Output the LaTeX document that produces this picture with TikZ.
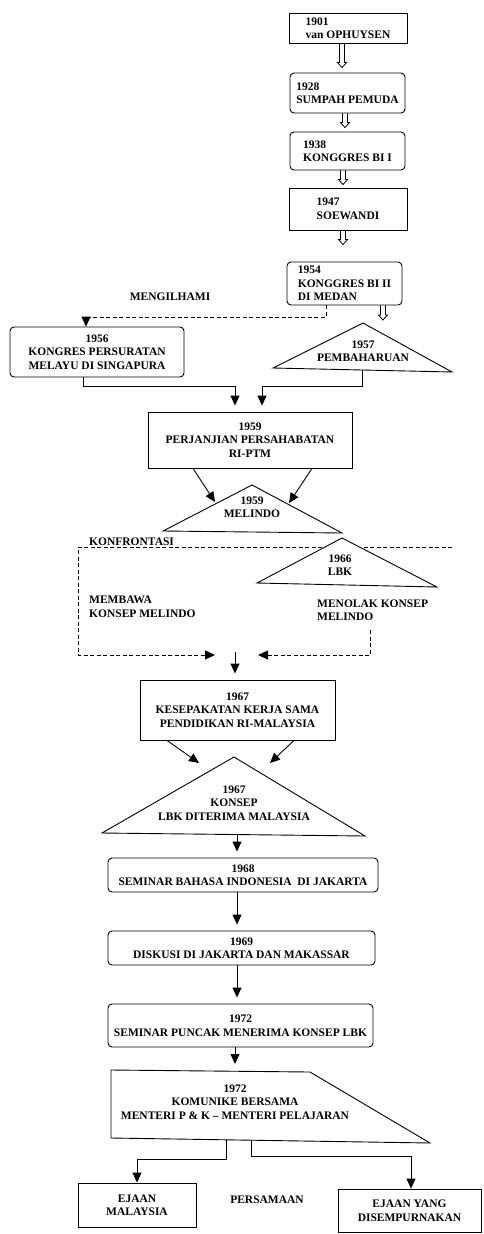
\documentclass[tikz,border=0pt]{standalone}
\usepackage{fontspec}
\setmainfont{Liberation Serif}
\usetikzlibrary{arrows.meta}
\usetikzlibrary{calc}

\begin{document}
\begin{tikzpicture}[x=1pt,y=-1pt,
    font=\fontsize{11.5}{13.5}\selectfont\bfseries,
    box/.style={draw,line width=0.9pt,inner sep=2pt,align=center},
    rbox/.style={box,rounded corners=4pt},
    lbl/.style={inner sep=1pt,align=center},
    tri/.style={draw,line width=0.9pt,fill=white,line join=miter},
    arr/.style={line width=0.9pt,-{Triangle[length=10pt,width=9pt]}},
    dasharr/.style={arr,dash pattern=on 4pt off 2.5pt},
    gap/.style={shorten >=6pt},
    hollow/.style={line width=0.8pt,to path={let \p1=(\tikztostart), \p2=(\tikztotarget) in
      (\x1-2.5pt,\y1) -- (\x1-2.5pt,\y2+5pt) -- (\x1-4.5pt,\y2+5pt) -- (\x1,\y2)
      -- (\x1+4.5pt,\y2+5pt) -- (\x1+2.5pt,\y2+5pt) -- (\x1+2.5pt,\y1)}}]
  \useasboundingbox (0,0) rectangle (484,1234);

  % boxes
  \node[box,align=left,minimum width=118pt,minimum height=30pt] (y1901) at (348,28) {1901\\van OPHUYSEN};
  \node[rbox,align=left,minimum width=115pt,minimum height=40pt] (y1928) at (347.5,93) {1928\\SUMPAH PEMUDA};
  \node[rbox,align=left,minimum width=115pt,minimum height=38pt] (y1938) at (347.5,151) {1938\\KONGGRES BI I};
  \node[box,align=left,minimum width=118pt,minimum height=42pt] (y1947) at (348,209) {1947\\SOEWANDI};
  \node[rbox,align=left,minimum width=115pt,minimum height=43pt] (y1954) at (344.5,283.5) {1954\\KONGGRES BI II\\DI MEDAN};
  \node[rbox,minimum width=174pt,minimum height=50pt] (y1956) at (97,352) {1956\\KONGRES PERSURATAN\\MELAYU DI SINGAPURA};
  \node[box,minimum width=204pt,minimum height=56pt] (y1959) at (250,440) {1959\\PERJANJIAN PERSAHABATAN\\RI-PTM};
  \node[box,minimum width=195pt,minimum height=60pt] (y1967) at (237.5,710) {1967\\KESEPAKATAN KERJA SAMA\\PENDIDIKAN RI-MALAYSIA};
  \node[rbox,minimum width=270pt,minimum height=34pt] (y1968) at (243,875) {1968\\SEMINAR BAHASA INDONESIA\ \ DI JAKARTA};
  \node[rbox,minimum width=267pt,minimum height=34pt] (y1969) at (241.5,948) {1969\\DISKUSI DI JAKARTA DAN MAKASSAR};
  \node[rbox,minimum width=265pt,minimum height=43pt] (y1972) at (240.5,1025.5) {1972\\SEMINAR PUNCAK MENERIMA KONSEP LBK};
  \node[box,minimum width=118pt,minimum height=44pt] (ejmal) at (137,1205) {EJAAN\\MALAYSIA};
  \node[box,minimum width=143pt,minimum height=43pt] (ejyang) at (409.5,1210.5) {EJAAN YANG\\DISEMPURNAKAN};

  % hollow arrows
  \draw[hollow] ([xshift=-6pt]y1901.south) to ([yshift=5pt]y1928.north);
  \draw[hollow] ([xshift=-2.5pt]y1928.south) to ([yshift=4pt]y1938.north);
  \draw[hollow] ([xshift=-4.5pt]y1938.south) to ([yshift=3pt]y1947.north);
  \draw[hollow] ([xshift=-5pt]y1947.south) to ([yshift=17pt]y1954.north);
  \coordinate (h57) at (383,320);
  \draw[hollow] (y1954.south -| h57) to (h57);

  % dashed lines
  \coordinate (m1) at (326,317);
  \draw[dasharr] (y1954.south -| m1) -- (m1) -| ([xshift=-11pt]y1956.north);
  \node[lbl] (mengil) at (170,297) {MENGILHAMI};

  \coordinate (k1) at (78,547);
  \coordinate (k2) at (452,547);
  \coordinate (k3) at (215,655);
  \draw[dasharr] (k2) -- (k1) |- (k3);
  \coordinate (r1) at (370,630);
  \coordinate (r2) at (258,655);
  \draw[dasharr] (r1) |- (r2);

  % triangles
  \coordinate (p57a) at (363,323);
  \coordinate (p57l) at (273,368);
  \coordinate (p57r) at (452,372);
  \draw[tri] (p57a) -- (p57l) -- (p57r) -- cycle;
  \coordinate (pmela) at (252,485);
  \coordinate (pmell) at (163,531);
  \coordinate (pmelr) at (342,533);
  \draw[tri] (pmela) -- (pmell) -- (pmelr) -- cycle;
  \coordinate (plbka) at (342,538);
  \coordinate (plbkl) at (257,583);
  \coordinate (plbkr) at (437,587);
  \draw[tri] (plbka) -- (plbkl) -- (plbkr) -- cycle;
  \coordinate (p67a) at (234,757);
  \coordinate (p67l) at (102,833);
  \coordinate (p67r) at (365,836);
  \draw[tri] (p67a) -- (p67l) -- (p67r) -- cycle;
  \draw[tri] (111,1070) -- (310,1072) -- (430,1143) -- (111,1138) -- cycle;

  \node[lbl] (t1957) at (363,351) {1957\\PEMBAHARUAN};
  \node[lbl] (tmel) at (252,507) {1959\\MELINDO};
  \node[lbl] (tlbk) at (340,565) {1966\\LBK};
  \node[lbl] (t1967) at (234,803) {1967\\KONSEP\\LBK DITERIMA MALAYSIA};
  \node[lbl] (tkom) at (235,1102) {1972\\KOMUNIKE BERSAMA\\MENTERI P \& K -- MENTERI PELAJARAN};

  \node[lbl,anchor=south west] (konf) at (88,547) {KONFRONTASI};
  \node[lbl,align=left,anchor=west] (membawa) at (88,607) {MEMBAWA\\KONSEP MELINDO};
  \node[lbl,align=left,anchor=west] (menolak) at (316,610) {MENOLAK KONSEP\\MELINDO};
  \node[lbl] (persama) at (267,1200) {PERSAMAAN};

  % solid arrows
  \draw[arr,gap] ([xshift=-14pt]y1956.south) -- ++(0,9) -| ([xshift=-15pt]y1959.north);
  \coordinate (p57b) at (362,370);
  \draw[arr,gap] (p57b) -- ++(0,16) -| ([xshift=12pt]y1959.north);
  \coordinate (e1) at (215,502);
  \coordinate (e2) at (289,503);
  \draw[arr] ([xshift=-57pt]y1959.south) -- (e1);
  \draw[arr] ([xshift=62pt]y1959.south) -- (e2);
  \coordinate (c1) at (235,652);
  \draw[arr,gap] (c1) -- (c1 |- y1967.north);
  \coordinate (f1) at (199,763);
  \coordinate (f2) at (270,763);
  \draw[arr] ([xshift=-70.5pt]y1967.south) -- (f1);
  \draw[arr] ([xshift=56.5pt]y1967.south) -- (f2);
  \coordinate (p67b) at (237,834.5);
  \draw[arr,gap] (p67b) -- (p67b |- y1968.north);
  \draw[arr,gap] ([xshift=-6pt]y1968.south) -- ([xshift=-4.5pt]y1969.north);
  \draw[arr,gap] ([xshift=-4.5pt]y1969.south) -- ([xshift=-3.5pt]y1972.north);
  \coordinate (qtop) at (235,1070);
  \draw[arr,gap] (y1972.south -| qtop) -- (qtop);
  \coordinate (qb1) at (226,1140);
  \coordinate (qb2) at (251,1140);
  \draw[arr] (qb1) -- ++(0,19) -| (ejmal.north);
  \draw[arr] (qb2) -- ++(0,16) -| ([xshift=1.5pt]ejyang.north);
\end{tikzpicture}
\end{document}
